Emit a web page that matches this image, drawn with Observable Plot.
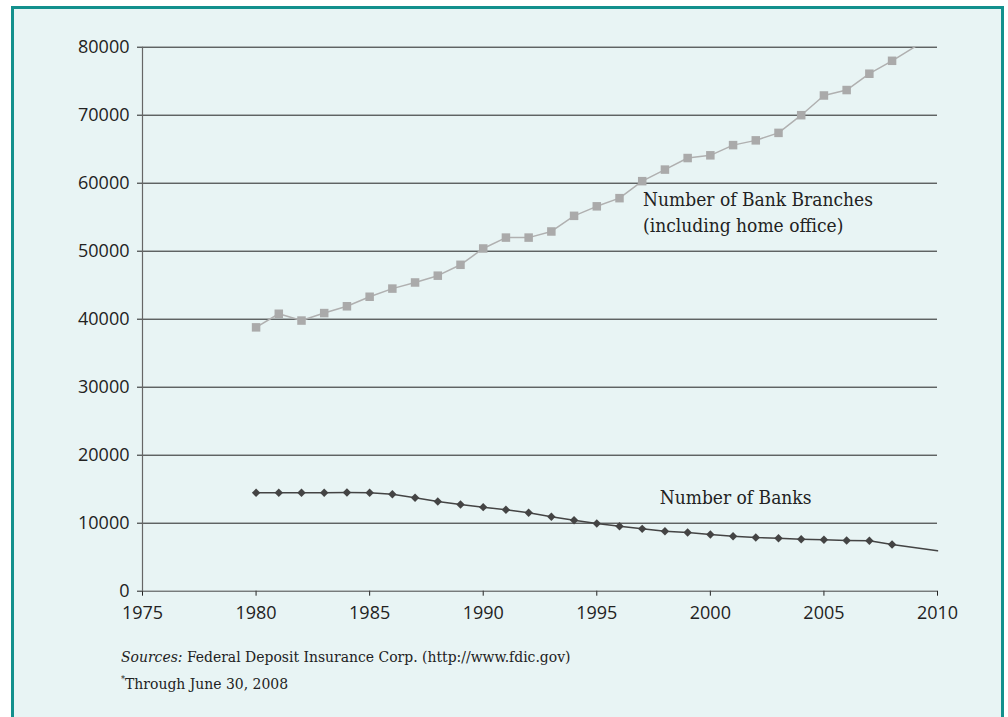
<!DOCTYPE html>
<html>
<head>
<meta charset="utf-8">
<script src="https://cdn.jsdelivr.net/npm/d3@7"></script>
<script src="https://cdn.jsdelivr.net/npm/@observablehq/plot@0.6"></script>
<style>
  html, body { margin: 0; padding: 0; background: #ffffff; }
  #frame {
    position: absolute; left: 11px; top: 6px; width: 987px; height: 720px;
    background: #e8f4f4; border: 3px solid #13908d; border-bottom: none;
  }
  #chart { position: absolute; left: 0; top: 0; }
  .note {
    position: absolute; left: 121px; font-family: "DejaVu Serif Condensed", "DejaVu Serif", serif;
    font-size: 15.5px; color: #222; white-space: nowrap; line-height: 1;
  }
  .note sup { font-size: 9px; vertical-align: 7px; }
</style>
</head>
<body>
<div id="frame"></div>
<div id="chart"></div>
<div class="note" style="top:650px;"><i>Sources:</i> Federal Deposit Insurance Corp. (http://www.fdic.gov)</div>
<div class="note" style="top:675px;"><sup>*</sup>Through June 30, 2008</div>
<script>
const years = [1980,1981,1982,1983,1984,1985,1986,1987,1988,1989,1990,1991,1992,1993,1994,1995,1996,1997,1998,1999,2000,2001,2002,2003,2004,2005,2006,2007,2008];
const branches = [38800,40800,39800,40900,41900,43300,44500,45400,46400,48000,50400,52000,52000,52900,55200,56600,57800,60300,62000,63700,64100,65600,66300,67400,70000,72900,73700,76100,78000];
const banks = [14470,14470,14470,14480,14510,14470,14270,13730,13190,12750,12360,11970,11530,10940,10440,9960,9560,9170,8820,8630,8340,8090,7900,7800,7650,7560,7460,7410,6870];
// trend line continuation drawn in the original to the axis end
const trendYear = 2010;
const branchesTrend = 82100;
const banksTrend = 5940;

const xTicks = [1975,1980,1985,1990,1995,2000,2005,2010];
const yTicks = [0,10000,20000,30000,40000,50000,60000,70000,80000];

const branchData = years.map((y, i) => ({year: y, value: branches[i]}));
const bankData = years.map((y, i) => ({year: y, value: banks[i]}));
const branchLine = [...branchData, {year: trendYear, value: branchesTrend}];
const bankLine = [...bankData, {year: trendYear, value: banksTrend}];

const labels = [
  {x: 1997.04, y: 56720, text: "Number of Bank Branches"},
  {x: 1997.04, y: 52790, text: "(including home office)"},
  {x: 1997.77, y: 12850, text: "Number of Banks"}
];

const plot = Plot.plot({
  width: 1008,
  height: 640,
  marginLeft: 142,
  marginRight: 71,
  marginTop: 46.7,
  marginBottom: 49.3,
  style: {background: "transparent", fontFamily: "'Open Sans', sans-serif", fontSize: "18px", color: "#222"},
  x: {domain: [1975, 2010], ticks: xTicks, tickFormat: d => String(d), tickSize: 5, tickPadding: 10, label: null},
  y: {domain: [0, 80000], ticks: yTicks, tickFormat: d => String(d), tickSize: 5, tickPadding: 8, label: null},
  marks: [
    Plot.ruleY(yTicks.filter(d => d > 0), {x1: 1975, x2: 2010, stroke: "#222", strokeWidth: 1}),
    Plot.ruleX([1975], {y1: 0, y2: 80000, stroke: "#666", strokeWidth: 1.2}),
    Plot.ruleY([0], {x1: 1975, x2: 2010, stroke: "#444", strokeWidth: 1}),
    Plot.line(branchLine, {x: "year", y: "value", stroke: "#b0b0b0", strokeWidth: 1.5, clip: true}),
    Plot.dot(branchData, {x: "year", y: "value", symbol: "square", r: 4.8, fill: "#aaaaaa", stroke: "none"}),
    Plot.line(bankLine, {x: "year", y: "value", stroke: "#444", strokeWidth: 1.5}),
    Plot.dot(bankData, {x: "year", y: "value", symbol: "diamond2", r: 3.8, fill: "#444", stroke: "none"}),
    Plot.text(labels, {x: "x", y: "y", text: "text", textAnchor: "start", lineAnchor: "bottom",
      fontFamily: "'DejaVu Serif Condensed', 'DejaVu Serif', serif", fontSize: 19, fill: "#222"})
  ]
});
document.getElementById("chart").appendChild(plot);
</script>
</body>
</html>
